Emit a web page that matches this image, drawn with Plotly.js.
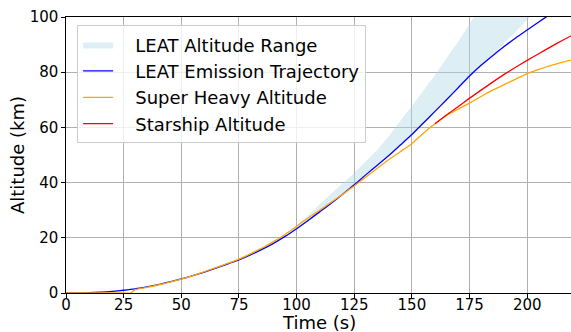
<!DOCTYPE html>
<html>
<head>
<meta charset="utf-8">
<script src="https://cdn.plot.ly/plotly-3.0.1.min.js"></script>
<style>html,body{margin:0;padding:0;background:#fff;}#chart{width:571px;height:332px;}</style>
</head>
<body>
<div id="chart"></div>
<script>
// LEAT emission trajectory (blue)
const leatTime = [0,5,10,15,20,25,30,35,40,45,50,55,60,65,70,75,80,85,90,95,100,105,110,115,120,125,130,135,140,145,150,155,160,165,170,175,180,185,190,195,200,205,210,215,220];
const leatAlt  = [0,0,0.1,0.3,0.6,1.0,1.5,2.2,3.0,4.0,5.1,6.3,7.6,9.0,10.5,12.0,13.8,15.8,18.0,20.5,23.3,26.3,29.4,32.5,35.8,39.2,42.8,46.3,49.8,53.6,57.4,61.6,65.8,70.0,74.3,78.6,82.5,86.0,89.3,92.4,95.3,98.2,101.0,103.7,106.3];

// LEAT altitude range (band)
const rangeTime  = [95,100,105,110,115,120,125,130,135,140,145,150,155,160,165,170,175,180,185,190,195,200,205];
const rangeLower = [20.5,23.3,26.3,29.4,32.5,35.8,39.2,42.8,46.3,49.8,53.6,57.4,61.6,65.8,70.0,74.3,78.6,82.6,86.3,90.5,94.7,99.0,103.0];
const rangeUpper = [20.5,24.3,28.2,32.1,36.0,39.7,43.5,47.6,51.9,56.9,62.3,67.8,73.4,79.0,85.0,91.0,97.5,104.5,112.0,120.0,128.0,136.0,144.0];

// Super Heavy altitude (orange)
const shTime = [0,5,10,15,20,25,28,30,35,40,45,50,55,60,65,70,75,80,85,90,95,100,105,110,115,120,125,130,135,140,145,150,155,160,165,170,175,180,185,190,195,200,205,210,215,220];
const shAlt  = [0,0,0,0,0,0,0,1.2,2.0,2.9,3.9,5.0,6.3,7.7,9.2,10.7,12.3,14.2,16.3,18.6,21.2,24.2,27.2,30.0,32.9,35.8,38.8,42.0,45.2,48.4,51.2,54.1,57.9,61.3,64.3,66.6,68.8,71.2,73.5,75.5,77.5,79.5,81.0,82.4,83.6,84.6];

// Starship altitude (red)
const ssTime = [160,165,170,175,180,185,190,195,200,205,210,215,220];
const ssAlt  = [61.3,64.5,67.5,70.6,73.5,76.4,79.2,81.8,84.3,86.7,89.1,91.4,93.6];

const xTicks = [0,25,50,75,100,125,150,175,200];
const yTicks = [0,20,40,60,80,100];

const FONT = 'DejaVu Sans';
const PAD = '\u00A0\u00A0\u00A0';

const traces = [
  {x: rangeTime, y: rangeLower, type: 'scatter', mode: 'lines', line: {width: 0, color: 'rgba(173,216,230,0)', shape: 'spline', smoothing: 0.5}, showlegend: false, hoverinfo: 'skip'},
  {x: rangeTime, y: rangeUpper, type: 'scatter', mode: 'lines', fill: 'tonexty', fillcolor: 'rgba(173,216,230,0.42)', line: {width: 0, color: 'rgba(173,216,230,0)', shape: 'spline', smoothing: 0.5}, name: PAD + 'LEAT Altitude Range'},
  {x: leatTime, y: leatAlt, type: 'scatter', mode: 'lines', line: {color: '#0000ff', width: 1.3, shape: 'spline', smoothing: 0.6}, name: PAD + 'LEAT Emission Trajectory'},
  {x: shTime, y: shAlt, type: 'scatter', mode: 'lines', line: {color: '#ffa500', width: 1.3, shape: 'spline', smoothing: 0.4}, name: PAD + 'Super Heavy Altitude'},
  {x: ssTime, y: ssAlt, type: 'scatter', mode: 'lines', line: {color: '#ff0000', width: 1.3, shape: 'spline', smoothing: 0.5}, name: PAD + 'Starship Altitude'}
];

const layout = {
  width: 571, height: 332,
  margin: {l: 66, r: 0, t: 17, b: 39},
  paper_bgcolor: '#ffffff', plot_bgcolor: '#ffffff',
  font: {family: FONT, color: '#000000', size: 15},
  xaxis: {
    range: [0, 219], tickvals: xTicks, ticktext: xTicks.map(String),
    showgrid: true, gridcolor: '#b0b0b0', gridwidth: 1,
    showline: true, linecolor: '#000000', linewidth: 1.2, mirror: true,
    ticks: 'outside', ticklen: 3.5, tickcolor: '#000000', tickwidth: 1,
    ticklabelstandoff: -6,
    tickfont: {family: FONT, size: 15}, zeroline: false,
    title: {text: '', font: {family: FONT, size: 18}}
  },
  yaxis: {
    range: [0, 100], tickvals: yTicks, ticktext: yTicks.map(String),
    showgrid: true, gridcolor: '#b0b0b0', gridwidth: 1,
    showline: true, linecolor: '#000000', linewidth: 1.2, mirror: false,
    ticks: 'outside', ticklen: 3.5, tickcolor: '#000000', tickwidth: 1,
    tickfont: {family: FONT, size: 15}, zeroline: false,
    title: {text: 'Altitude (km)', font: {family: FONT, size: 18}, standoff: 0}
  },
  annotations: [{
    text: 'Time (s)', xref: 'paper', yref: 'paper', x: 0.5, y: -41 / 276, xanchor: 'center', yanchor: 'bottom',
    showarrow: false, font: {family: FONT, size: 18, color: '#000000'}, borderpad: 0
  }],
  legend: {
    x: 0.022, y: 0.970, xanchor: 'left', yanchor: 'top', traceorder: 'normal',
    bgcolor: 'rgba(255,255,255,0.8)', bordercolor: '#cccccc', borderwidth: 1,
    font: {family: FONT, size: 18}, tracegroupgap: 0
  },
  showlegend: true
};

Plotly.newPlot('chart', traces, layout, {staticPlot: true, displayModeBar: false});
</script>
</body>
</html>
